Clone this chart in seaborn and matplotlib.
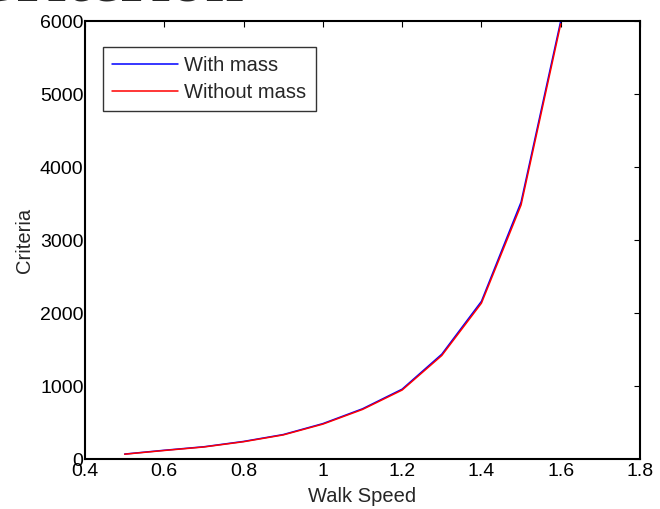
import matplotlib
matplotlib.use("Agg")
import matplotlib.pyplot as plt
import seaborn as sns
import pandas as pd

# data
walk_speed = [0.5, 0.6, 0.7, 0.8, 0.9, 1.0, 1.1, 1.2, 1.3, 1.4, 1.5, 1.6]
with_mass = [68, 120, 168, 241, 335, 485, 688, 957, 1436, 2160, 3520, 6000]
without_mass = [66, 117, 165, 237, 330, 478, 679, 945, 1418, 2135, 3480, 5960]

sns.set_theme(style="white")
plt.rcParams["font.family"] = ["Liberation Sans", "DejaVu Sans"]
plt.rcParams["xtick.direction"] = "in"
plt.rcParams["ytick.direction"] = "in"

df = pd.DataFrame({"speed": walk_speed, "with": with_mass, "without": without_mass})

fig = plt.figure(figsize=(6.6, 5.09), dpi=100)
ax = fig.add_axes([0.1288, 0.0982, 0.8409, 0.8605])

sns.lineplot(data=df, x="speed", y="with", color="blue", lw=1.1, label="With mass", ax=ax)
sns.lineplot(data=df, x="speed", y="without", color="red", lw=1.1, label="Without mass", ax=ax)

ax.set_xlim(0.4, 1.8)
ax.set_ylim(0, 6000)
ax.set_xticks([0.4, 0.6, 0.8, 1.0, 1.2, 1.4, 1.6, 1.8])
ax.set_xticklabels(["0.4", "0.6", "0.8", "1", "1.2", "1.4", "1.6", "1.8"])
ax.set_yticks(range(0, 6001, 1000))
ax.tick_params(axis="x", pad=3)
ax.tick_params(axis="y", pad=1)
ax.tick_params(axis="both", labelsize=14, colors="black", length=4, width=0.8,
               top=True, right=True)
ax.set_xlabel("Walk Speed", fontsize=14.5, labelpad=5)
ax.set_ylabel("Criteria", fontsize=14.5, labelpad=4)
for s in ax.spines.values():
    s.set_color("black")
    s.set_linewidth(1.5)

leg = ax.legend(loc="upper left", bbox_to_anchor=(0.032, 0.94), fontsize=14.5,
                frameon=True, fancybox=False, edgecolor="black",
                handlelength=3.3, handletextpad=0.3, borderpad=0.45,
                labelspacing=0.4, borderaxespad=0)
leg.get_frame().set_linewidth(1.0)

# title cut off at the top of the image
fig.text(-0.05, 0.999, "Criterion", fontsize=50, fontweight="bold",
         family=["Liberation Serif", "DejaVu Serif"], va="baseline", ha="left")

fig.savefig("out.png", dpi=100)
